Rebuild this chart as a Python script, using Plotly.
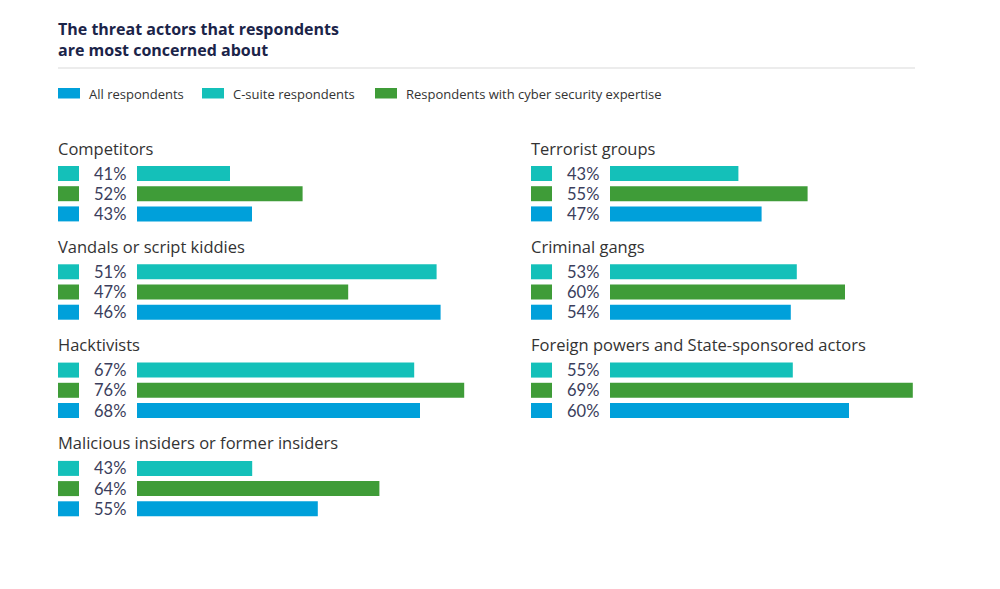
import plotly.graph_objects as go

# ---------------- data ----------------
series_names = ["C-suite respondents", "Respondents with cyber security expertise", "All respondents"]
legend_order = ["All respondents", "C-suite respondents", "Respondents with cyber security expertise"]

left_categories = ["Competitors", "Vandals or script kiddies", "Hacktivists",
                   "Malicious insiders or former insiders"]
right_categories = ["Terrorist groups", "Criminal gangs",
                    "Foreign powers and State-sponsored actors"]

# percentages shown as labels
left_csuite = [41, 51, 67, 43]
left_cyber = [52, 47, 76, 64]
left_all = [43, 46, 68, 55]
right_csuite = [43, 53, 55]
right_cyber = [55, 60, 69]
right_all = [47, 54, 60]

# bar lengths as drawn in the original graphic (not proportional to the labels)
left_csuite_drawn = [23.25, 74.9, 69.3, 28.8]
left_cyber_drawn = [41.4, 52.8, 81.8, 60.6]
left_all_drawn = [28.75, 75.9, 70.75, 45.2]
right_csuite_drawn = [32.1, 46.7, 45.7]
right_cyber_drawn = [49.4, 58.75, 75.7]
right_all_drawn = [37.9, 45.2, 59.75]

# ---------------- style ----------------
COLORS = {"C-suite respondents": "#14c0b9",
          "Respondents with cyber security expertise": "#3f9c38",
          "All respondents": "#00a0da"}
FONT = "Open Sans"
PCT_FONT = "Lato"
TEXT_DARK = "#333333"
PCT_COLOR = "#3b3e5c"
TITLE_COLOR = "#1b2449"
W, H = 1000, 589
PAGE_OFFSET = 8          # browser body margin
DX = PAGE_OFFSET / W     # paper-fraction correction

GROUP_TOP = 148
GROUP_PITCH = 98.3
BAR_OFFSET = 25.5
ROW_PITCH = 20.2
BAR_H = 15
KEY_START = -19.75
KEY_W = 5.25

fig = go.Figure()

panels = [
    ("x", left_categories, [left_csuite, left_cyber, left_all],
     [left_csuite_drawn, left_cyber_drawn, left_all_drawn]),
    ("x2", right_categories, [right_csuite, right_cyber, right_all],
     [right_csuite_drawn, right_cyber_drawn, right_all_drawn]),
]

annotations = []
for xref, cats, vals, drawn in panels:
    for si, name in enumerate(series_names):
        ys = [GROUP_TOP + gi * GROUP_PITCH + BAR_OFFSET + si * ROW_PITCH for gi in range(len(cats))]
        fig.add_trace(go.Bar(
            x=drawn[si], y=ys, base=0, orientation="h", width=BAR_H,
            marker=dict(color=COLORS[name], line=dict(width=0)),
            xaxis=xref, yaxis="y", showlegend=False, name=name,
            hovertemplate=[f"{c}: {v}%<extra>{name}</extra>" for c, v in zip(cats, vals[si])],
        ))
        fig.add_trace(go.Bar(
            x=[KEY_W] * len(ys), y=ys, base=KEY_START, orientation="h", width=BAR_H,
            marker=dict(color=COLORS[name], line=dict(width=0)),
            xaxis=xref, yaxis="y", showlegend=False, hoverinfo="skip",
        ))
        for y, v in zip(ys, vals[si]):
            annotations.append(dict(
                x=-2.5, y=y, xref=xref, yref="y", text=f"{v}%", showarrow=False,
                xanchor="right", yanchor="middle", borderpad=0,
                font=dict(family=PCT_FONT, size=16.5, color=PCT_COLOR)))
    for gi, c in enumerate(cats):
        annotations.append(dict(
            x=KEY_START, y=GROUP_TOP + gi * GROUP_PITCH, xref=xref, yref="y", text=c,
            showarrow=False, xanchor="left", yanchor="middle", xshift=-2,
            font=dict(family=FONT, size=16.5, color=TEXT_DARK)))

annotations.append(dict(
    x=0.056 - DX, y=39.5, xref="paper", yref="y",
    text="<b>The threat actors that respondents<br>are most concerned about</b>",
    showarrow=False, xanchor="left", yanchor="middle", align="left",
    font=dict(family=FONT, size=16, color=TITLE_COLOR)))

shapes = [dict(type="line", xref="paper", yref="y", x0=0.058 - DX, x1=0.915 - DX, y0=68, y1=68,
               line=dict(color="#d9d9d9", width=1))]
legend_x = [0.058, 0.202, 0.375]
for lx, name in zip(legend_x, legend_order):
    shapes.append(dict(type="rect", xref="paper", yref="y", x0=lx - DX, x1=lx + 0.022 - DX,
                       y0=88, y1=98.5, fillcolor=COLORS[name], line=dict(width=0)))
    annotations.append(dict(
        x=lx + 0.029 - DX, y=93.5, xref="paper", yref="y", text=name, showarrow=False,
        xanchor="left", yanchor="middle",
        font=dict(family=FONT, size=13, color=TEXT_DARK)))

fig.update_layout(
    width=W, height=H, margin=dict(l=0, r=0, t=0, b=0),
    paper_bgcolor="white", plot_bgcolor="white", barmode="overlay",
    xaxis=dict(domain=[0.058 - DX, 0.5 - DX], range=[-19.75, 90.75], visible=False, fixedrange=True),
    xaxis2=dict(domain=[0.53 - DX, 0.97 - DX], range=[-20, 90], visible=False, anchor="y", fixedrange=True),
    yaxis=dict(domain=[0, 1], range=[H + PAGE_OFFSET, PAGE_OFFSET], visible=False, fixedrange=True),
    annotations=annotations, shapes=shapes,
)

fig.write_html("out.html")
